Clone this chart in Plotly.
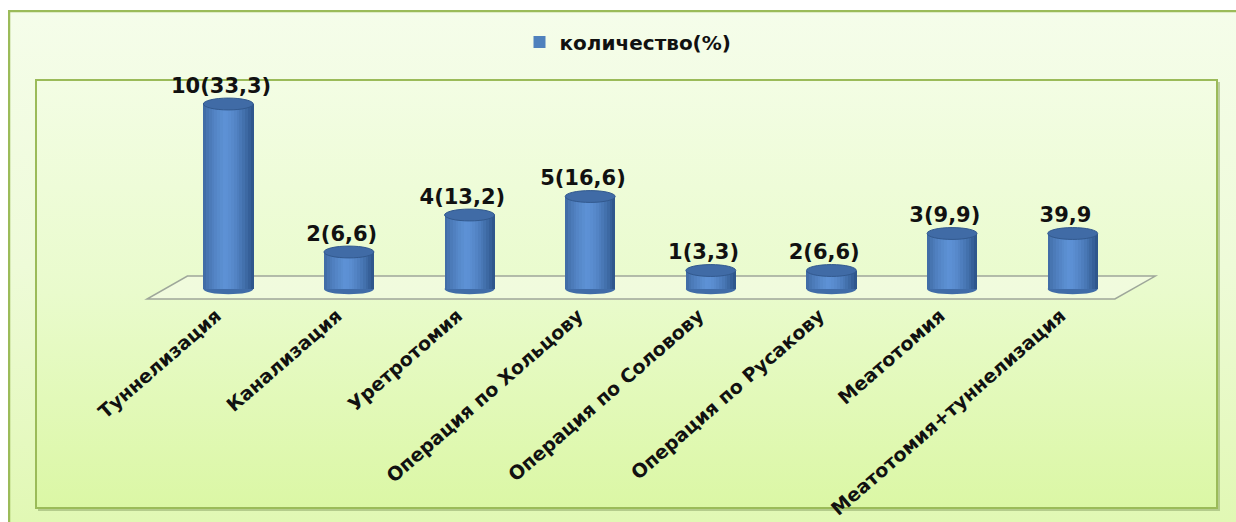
import base64
import plotly.graph_objects as go

# ---------------- data ----------------
categories = ["Туннелизация", "Канализация", "Уретротомия", "Операция по Хольцову",
              "Операция по Соловову", "Операция по Русакову", "Меатотомия",
              "Меатотомия+туннелизация"]
bar_heights = [10, 2, 4, 5, 1, 1, 3, 3]
value_labels = ["10(33,3)", "2(6,6)", "4(13,2)", "5(16,6)", "1(3,3)", "2(6,6)", "3(9,9)", "39,9"]
series_name = "количество(%)"

# ---------------- geometry / style ----------------
W, H = 1236, 522
L, R, T, B = 168, 103, 80, 214
PW, PH = W - L - R, H - T - B
Y_RANGE = [-1.027, 11.297]
X_RANGE = [-0.5, 7.5]
BAR_W = 0.414
TOP_E = 0.32
BOT_E = 0.28

def pxx(px):
    return (px - L) / PW

def pxy(py):
    return (H - B - py) / PH

def dx2paper(x):
    return (x - X_RANGE[0]) / (X_RANGE[1] - X_RANGE[0])

def dy2paper(y):
    return (y - Y_RANGE[0]) / (Y_RANGE[1] - Y_RANGE[0])

xs = list(range(len(categories)))

def svg_uri(svg):
    return "data:image/svg+xml;base64," + base64.b64encode(svg.encode("utf-8")).decode()

outer_w, outer_h = 1228, 512
outer_svg = f'''<svg xmlns="http://www.w3.org/2000/svg" width="{outer_w}" height="{outer_h}" viewBox="0 0 {outer_w} {outer_h}" preserveAspectRatio="none">
<defs><linearGradient id="g" x1="0" y1="0" x2="0" y2="1">
<stop offset="0" stop-color="#f5fdea"/><stop offset="0.5" stop-color="#eefbd8"/><stop offset="1" stop-color="#e1f8b4"/></linearGradient></defs>
<rect width="{outer_w}" height="{outer_h}" fill="url(#g)"/>
<line x1="0" y1="1" x2="{outer_w}" y2="1" stroke="#9bbb59" stroke-width="2.5"/>
<line x1="1" y1="0" x2="1" y2="{outer_h}" stroke="#9bbb59" stroke-width="2.5"/>
</svg>'''

iw, ih = 1186, 433
inner_svg = f'''<svg xmlns="http://www.w3.org/2000/svg" width="{iw}" height="{ih}" viewBox="0 0 {iw} {ih}" preserveAspectRatio="none">
<defs><linearGradient id="g2" x1="0" y1="0" x2="0" y2="1">
<stop offset="0" stop-color="#f3fde4"/><stop offset="0.5" stop-color="#e9fbcc"/><stop offset="1" stop-color="#dbf7a5"/></linearGradient></defs>
<rect x="3" y="3" width="{iw-4}" height="{ih-4}" fill="#8fa86a" opacity="0.55"/>
<rect x="1" y="1" width="{iw-5}" height="{ih-5}" fill="url(#g2)" stroke="#9bbb59" stroke-width="2"/>
</svg>'''

fig = go.Figure()

# base cylinder body (legend entry)
fig.add_trace(go.Bar(x=xs, y=bar_heights, width=BAR_W, name=series_name,
                     marker=dict(color="#4f81bd", line=dict(width=0)),
                     showlegend=True, hoverinfo="skip"))

# shading strips
N = 18
left_c = (58, 100, 156)
hl_c = (94, 146, 214)
right_c = (44, 83, 136)
for i in range(N):
    t = (i + 0.5) / N
    if t < 0.42:
        f = (t / 0.42) ** 0.6
        c = tuple(int(left_c[k] + (hl_c[k] - left_c[k]) * f) for k in range(3))
    else:
        f = ((t - 0.42) / 0.58) ** 1.6
        c = tuple(int(hl_c[k] + (right_c[k] - hl_c[k]) * f) for k in range(3))
    fig.add_trace(go.Bar(x=xs, y=bar_heights, width=BAR_W / N * 1.08,
                         offset=-BAR_W / 2 + i * BAR_W / N,
                         marker=dict(color=f"rgb{c}", line=dict(width=0)),
                         showlegend=False, hoverinfo="skip"))

# value labels
fig.add_trace(go.Scatter(x=[x - 0.06 for x in xs], y=[v + TOP_E for v in bar_heights], text=value_labels,
                         mode="text", textposition="top center",
                         textfont=dict(family="DejaVu Sans", size=21, color="#111111", weight="bold"),
                         showlegend=False, hoverinfo="skip", cliponaxis=False))

shapes = []
# floor (paper coordinates so that it is not clipped at the plot edges)
fx0, fx1, depth_x = -0.674, 7.35, 0.335
fy0, fy1 = -0.54, 0.70
pts = [(fx0, fy0), (fx1, fy0), (fx1 + depth_x, fy1), (fx0 + depth_x, fy1)]
path = "M " + " L ".join(f"{dx2paper(a):.5f},{dy2paper(b):.5f}" for a, b in pts) + " Z"
shapes.append(dict(type="path", xref="paper", yref="paper", layer="below", path=path,
                   line=dict(color="#9ea79a", width=1.5), fillcolor="rgba(245,252,232,0.6)"))
# bottom ellipses
for x, v in zip(xs, bar_heights):
    shapes.append(dict(type="circle", xref="x", yref="y", layer="below",
                       x0=x - BAR_W / 2, x1=x + BAR_W / 2, y0=-BOT_E, y1=BOT_E,
                       fillcolor="rgb(64,108,168)", line=dict(width=0)))
# top ellipses
for x, v in zip(xs, bar_heights):
    shapes.append(dict(type="circle", xref="x", yref="y", layer="above",
                       x0=x - BAR_W / 2, x1=x + BAR_W / 2, y0=v - TOP_E, y1=v + TOP_E,
                       fillcolor="rgb(64,107,166)", line=dict(color="rgb(50,89,142)", width=1)))

images = [
    dict(source=svg_uri(outer_svg), xref="paper", yref="paper",
         x=pxx(8), y=pxy(10), sizex=pxx(8 + outer_w) - pxx(8), sizey=pxy(10) - pxy(10 + outer_h),
         xanchor="left", yanchor="top", sizing="stretch", layer="below"),
    dict(source=svg_uri(inner_svg), xref="paper", yref="paper",
         x=pxx(35), y=pxy(79), sizex=pxx(35 + iw) - pxx(35), sizey=pxy(79) - pxy(79 + ih),
         xanchor="left", yanchor="top", sizing="stretch", layer="below"),
]

fig.update_layout(
    width=W, height=H,
    margin=dict(l=L, r=R, t=T, b=B, pad=0, autoexpand=False),
    paper_bgcolor="white", plot_bgcolor="rgba(0,0,0,0)",
    barmode="overlay", bargap=0,
    shapes=shapes, images=images,
    showlegend=True,
    legend=dict(orientation="h", x=pxx(628), y=pxy(42), xanchor="center", yanchor="middle",
                bgcolor="rgba(0,0,0,0)", itemwidth=30,
                font=dict(family="DejaVu Sans", size=20, color="#111111", weight="bold")),
    xaxis=dict(range=X_RANGE, tickmode="array", tickvals=xs, ticktext=categories,
               tickangle=-41, showgrid=False, zeroline=False, showline=False, ticks="",
               tickfont=dict(family="DejaVu Sans", size=19, color="#111111", weight="bold"),
               ticklabelshift=-12, ticklabelstandoff=-8, fixedrange=True, automargin=False),
    yaxis=dict(range=Y_RANGE, visible=False, fixedrange=True, automargin=False),
)

fig.write_html("out.html")
